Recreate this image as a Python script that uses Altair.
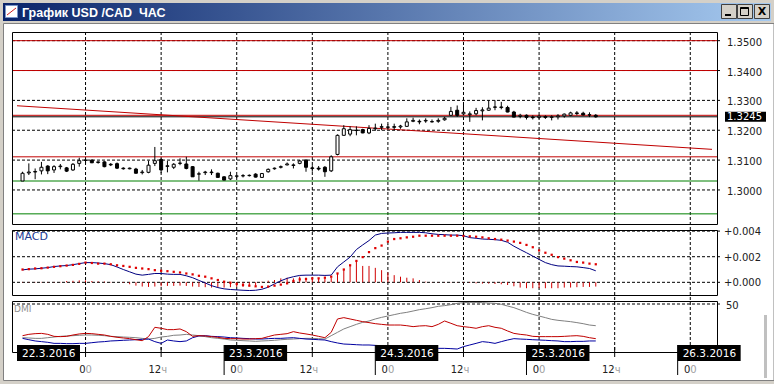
import altair as alt
import pandas as pd

# ---------------- data ----------------
hours = list(range(-10, 82))
opens = [1.3030,1.3057,1.3060,1.3064,1.3080,1.3067,1.3078,1.3074,1.3067,1.3089,
 1.3099,1.3100,1.3092,1.3094,1.3086,1.3088,1.3073,1.3071,1.3070,1.3058,
 1.3059,1.3089,1.3102,1.3079,1.3076,1.3089,1.3087,1.3078,1.3053,1.3058,
 1.3060,1.3056,1.3044,1.3037,1.3046,1.3047,1.3048,1.3053,1.3042,1.3061,
 1.3071,1.3076,1.3084,1.3082,1.3089,1.3100,1.3074,1.3073,1.3076,1.3064,
 1.3119,1.3183,1.3187,1.3200,1.3202,1.3191,1.3205,1.3210,1.3211,1.3212,
 1.3211,1.3213,1.3230,1.3230,1.3231,1.3229,1.3230,1.3235,1.3250,1.3267,
 1.3255,1.3252,1.3255,1.3265,1.3267,1.3278,1.3276,1.3276,1.3261,1.3246,
 1.3250,1.3244,1.3243,1.3246,1.3243,1.3245,1.3248,1.3250,1.3258,1.3257,
 1.3251,1.3250]
highs = [1.3061,1.3089,1.3072,1.3094,1.3083,1.3083,1.3087,1.3077,1.3090,1.3108,
 1.3106,1.3102,1.3096,1.3096,1.3090,1.3092,1.3076,1.3075,1.3074,1.3067,
 1.3098,1.3144,1.3106,1.3097,1.3090,1.3106,1.3111,1.3080,1.3061,1.3064,
 1.3069,1.3058,1.3046,1.3061,1.3050,1.3053,1.3052,1.3056,1.3057,1.3072,
 1.3075,1.3082,1.3092,1.3089,1.3100,1.3103,1.3083,1.3080,1.3080,1.3116,
 1.3186,1.3217,1.3213,1.3213,1.3205,1.3217,1.3222,1.3222,1.3220,1.3222,
 1.3218,1.3240,1.3242,1.3236,1.3240,1.3236,1.3240,1.3245,1.3278,1.3283,
 1.3290,1.3263,1.3275,1.3277,1.3300,1.3300,1.3295,1.3282,1.3265,1.3255,
 1.3253,1.3250,1.3252,1.3250,1.3250,1.3254,1.3256,1.3262,1.3264,1.3262,
 1.3260,1.3254]
lows = [1.3030,1.3050,1.3036,1.3052,1.3053,1.3057,1.3069,1.3060,1.3064,1.3078,
 1.3089,1.3090,1.3088,1.3076,1.3080,1.3070,1.3068,1.3069,1.3055,1.3052,
 1.3056,1.3080,1.3056,1.3059,1.3070,1.3083,1.3069,1.3044,1.3031,1.3050,
 1.3050,1.3042,1.3033,1.3033,1.3040,1.3042,1.3045,1.3042,1.3042,1.3058,
 1.3068,1.3072,1.3082,1.3072,1.3086,1.3061,1.3061,1.3065,1.3044,1.3060,
 1.3116,1.3183,1.3180,1.3183,1.3190,1.3187,1.3198,1.3200,1.3204,1.3200,
 1.3205,1.3211,1.3227,1.3220,1.3225,1.3226,1.3225,1.3232,1.3250,1.3245,
 1.3250,1.3228,1.3250,1.3233,1.3265,1.3267,1.3270,1.3260,1.3244,1.3240,
 1.3236,1.3236,1.3238,1.3238,1.3233,1.3236,1.3242,1.3247,1.3250,1.3250,
 1.3244,1.3242]
closes = [1.3056,1.3060,1.3062,1.3076,1.3064,1.3078,1.3080,1.3063,1.3086,1.3098,
 1.3100,1.3091,1.3094,1.3078,1.3084,1.3073,1.3071,1.3073,1.3056,1.3060,
 1.3083,1.3098,1.3067,1.3081,1.3086,1.3090,1.3072,1.3044,1.3054,1.3060,
 1.3058,1.3042,1.3033,1.3048,1.3047,1.3048,1.3049,1.3043,1.3055,1.3069,
 1.3073,1.3078,1.3087,1.3084,1.3097,1.3076,1.3072,1.3070,1.3061,1.3111,
 1.3183,1.3205,1.3202,1.3199,1.3191,1.3206,1.3207,1.3212,1.3210,1.3210,
 1.3214,1.3228,1.3233,1.3228,1.3233,1.3228,1.3233,1.3240,1.3263,1.3250,
 1.3260,1.3255,1.3266,1.3268,1.3274,1.3277,1.3278,1.3261,1.3244,1.3250,
 1.3243,1.3242,1.3247,1.3243,1.3245,1.3248,1.3254,1.3258,1.3256,1.3251,
 1.3252,1.3245]

macd_main = [0.00097,0.00103,0.00105,0.00110,0.00115,0.00123,0.00128,0.00131,0.00138,0.00146,
 0.00154,0.00154,0.00151,0.00146,0.00138,0.00120,0.00100,0.00082,0.00064,0.00056,
 0.00062,0.00069,0.00069,0.00064,0.00062,0.00062,0.00051,0.00036,0.00015,-0.00005,
 -0.00026,-0.00041,-0.00051,-0.00056,-0.00059,-0.00062,-0.00064,-0.00062,-0.00054,-0.00038,
 -0.00012,0.00012,0.00031,0.00044,0.00054,0.00056,0.00056,0.00056,0.00054,0.00056,
 0.00121,0.00159,0.00197,0.00256,0.00292,0.00326,0.00369,0.00382,0.00385,0.00387,
 0.00390,0.00390,0.00390,0.00390,0.00387,0.00379,0.00374,0.00372,0.00369,0.00369,
 0.00364,0.00349,0.00344,0.00338,0.00336,0.00333,0.00328,0.00313,0.00282,0.00256,
 0.00231,0.00205,0.00179,0.00154,0.00138,0.00128,0.00126,0.00123,0.00121,0.00115,
 0.00108,0.00090]
macd_signal = [0.00100,0.00103,0.00108,0.00110,0.00115,0.00121,0.00126,0.00131,0.00136,0.00144,
 0.00154,0.00151,0.00146,0.00146,0.00141,0.00133,0.00128,0.00121,0.00113,0.00108,
 0.00103,0.00095,0.00090,0.00087,0.00082,0.00077,0.00069,0.00062,0.00051,0.00044,
 0.00031,0.00018,0.00005,-0.00003,-0.00013,-0.00021,-0.00026,-0.00031,-0.00036,-0.00033,
 -0.00026,-0.00018,-0.00008,0.00010,0.00023,0.00026,0.00031,0.00031,0.00036,0.00044,
 0.00069,0.00100,0.00133,0.00167,0.00197,0.00236,0.00267,0.00287,0.00318,0.00338,
 0.00344,0.00351,0.00356,0.00364,0.00364,0.00364,0.00364,0.00364,0.00364,0.00364,
 0.00362,0.00359,0.00356,0.00351,0.00344,0.00338,0.00333,0.00326,0.00318,0.00308,
 0.00292,0.00274,0.00249,0.00231,0.00215,0.00197,0.00185,0.00172,0.00159,0.00154,
 0.00146,0.00141]
macd_hist = [0.00003,0.00003,0.00003,0.00003,0.00003,0.00003,0.00003,0.00010,0.00012,0.00015,
 0.00015,0.00010,0.00008,0.00006,0.00003,0.0,-0.00005,-0.00015,-0.00026,-0.00033,
 -0.00036,-0.00033,-0.00031,-0.00028,-0.00028,-0.00026,-0.00028,-0.00033,-0.00036,-0.00038,
 -0.00041,-0.00041,-0.00041,-0.00038,-0.00036,-0.00036,-0.00031,-0.00026,0.00005,0.00013,
 0.00018,0.00031,0.00036,0.00031,0.00044,0.00036,0.00031,0.00031,0.00031,0.00036,
 0.00069,0.00100,0.00133,0.00167,0.00128,0.00128,0.00113,0.00095,0.00077,0.00056,
 0.00044,0.00036,0.00031,0.00018,0.00005,0.00002,0.00002,0.00002,0.00002,0.00002,
 -0.00003,-0.00005,-0.00008,-0.00010,-0.00010,-0.00013,-0.00015,-0.00021,-0.00031,-0.00041,
 -0.00046,-0.00046,-0.00046,-0.00046,-0.00046,-0.00046,-0.00041,-0.00041,-0.00038,-0.00036,
 -0.00036,-0.00033]

dmi_plus = [17.0,18.4,19.1,19.4,18.4,16.3,16.0,16.3,17.7,18.8,
 19.4,19.1,18.4,17.7,16.3,15.3,14.6,13.9,12.8,11.8,
 16.0,25.7,24.7,23.3,23.3,24.0,21.2,16.3,17.0,16.7,
 16.0,15.3,14.2,13.9,13.9,13.5,13.5,13.9,14.2,16.0,
 17.7,18.4,19.1,21.2,19.8,18.8,17.7,16.3,14.9,20.5,
 34.4,35.8,34.4,33.0,31.6,30.6,29.5,28.8,28.1,28.1,
 28.1,27.4,26.4,27.1,27.4,26.4,28.8,32.3,29.9,27.4,
 26.4,25.7,24.7,26.4,27.4,25.7,24.7,21.9,19.4,18.4,
 17.7,16.3,16.0,16.0,16.0,16.0,16.3,16.7,17.0,16.3,
 14.9,13.9]
dmi_minus = [14.2,12.8,11.5,10.8,10.1,9.0,9.0,8.7,8.7,9.0,
 9.0,9.7,10.4,10.8,11.5,11.8,12.2,12.5,12.8,13.2,
 13.5,10.8,9.0,12.5,11.5,10.8,11.5,14.9,16.7,17.0,
 16.3,16.0,15.6,14.9,14.6,14.2,13.9,13.5,13.5,13.9,
 14.2,14.2,14.6,14.9,14.2,13.5,13.2,12.8,12.5,10.8,
 9.4,8.3,8.0,7.6,7.3,7.3,6.9,6.6,6.6,6.3,
 5.9,5.6,5.2,4.9,4.5,4.2,3.8,3.8,3.5,3.1,
 5.6,7.3,9.0,10.8,10.1,9.0,10.8,12.5,13.9,13.5,
 13.2,12.8,12.5,12.2,11.8,11.5,10.8,10.8,11.1,11.1,
 11.5,11.5]
adx = [14.9,14.6,14.2,14.2,14.9,15.6,16.3,16.7,17.0,17.4,
 17.7,17.7,17.4,17.0,16.3,16.0,15.6,15.3,14.9,14.2,
 13.5,14.2,15.6,16.3,17.4,17.7,18.4,17.7,17.0,16.0,
 14.9,14.2,13.5,12.5,12.2,11.8,11.5,11.1,11.5,11.8,
 12.2,12.8,13.2,13.5,13.9,14.2,14.2,13.9,13.5,17.0,
 20.5,24.0,26.4,28.8,30.9,32.3,34.4,36.1,37.5,38.9,
 40.3,41.3,42.7,44.1,45.1,46.2,47.6,48.3,49.3,50.7,
 51.4,51.7,51.7,51.4,51.0,50.7,49.7,47.9,46.2,43.8,
 41.3,39.2,37.5,35.8,34.0,33.0,32.3,31.6,30.6,29.5,
 28.1,27.4]

price_ticks = [1.35, 1.34, 1.33, 1.32, 1.31, 1.30]
price_labels = ["1.3500", "1.3400", "1.3300", "1.3200", "1.3100", "1.3000"]
macd_ticks = [0.004, 0.002, 0.0]
macd_labels = ["+0.004", "+0.002", "+0.000"]
dmi_ticks = [50]
dmi_labels = ["50"]
time_ticks = [0, 12, 24, 36, 48, 60, 72, 84, 96]
time_main = ["0", "12", "0", "12", "0", "12", "0", "12", "0"]
time_suffix = ["0", "ч", "0", "ч", "0", "ч", "0", "ч", "0"]
day_starts = [-10.88, 22, 46, 70, 94]
day_labels = ["22.3.2016", "23.3.2016", "24.3.2016", "25.3.2016", "26.3.2016"]
day_separators = [22, 46, 70, 94]
red_levels = [1.3500, 1.3400, 1.3250, 1.3111]
green_levels = [1.3030, 1.2920]
bid_price = 1.3245
bid_label = "1.3245"
trend_hours = [-10.88, 99.45]
trend_prices = [1.3282, 1.3136]
title_text = "График USD /CAD\u00a0\u00a0ЧАС"

# ---------------- scales ----------------
XS = alt.Scale(domain=[-10.88, 99.45], range=[12, 717], nice=False, zero=False)
PS = alt.Scale(domain=[1.2886, 1.3529], range=[224, 32], nice=False, zero=False)
MS = alt.Scale(domain=[-0.00099, 0.004086], range=[295, 230], nice=False, zero=False)
DS = alt.Scale(domain=[0, 50], range=[352, 304], nice=False, zero=False)
FONT = "DejaVu Sans"

def X(f="h"):
    return alt.X(f + ":Q", scale=XS, axis=None)

def Y(f, s):
    return alt.Y(f + ":Q", scale=s, axis=None)

one = pd.DataFrame({"k": [0]})
candles = pd.DataFrame({"h": hours, "o": opens, "hi": highs, "lo": lows, "c": closes})
candles["dir"] = ["up" if c >= o else "down" for o, c in zip(opens, closes)]
macd = pd.DataFrame({"h": hours, "m": macd_main, "s": macd_signal, "hist": macd_hist})
macd["zero"] = 0.0
dmi = pd.DataFrame({"h": hours, "p": dmi_plus, "n": dmi_minus, "a": adx})
pt = pd.DataFrame({"v": price_ticks, "t": price_labels})
mt = pd.DataFrame({"v": macd_ticks, "t": macd_labels})
dt = pd.DataFrame({"v": dmi_ticks, "t": dmi_labels})
tt = pd.DataFrame({"h": time_ticks, "a": time_main, "b": time_suffix})
days = pd.DataFrame({"h": day_starts, "t": day_labels})
days["e"] = days["h"] + 10
seps = pd.DataFrame({"h": day_separators})
reds = pd.DataFrame({"v": red_levels})
greens = pd.DataFrame({"v": green_levels})
bid = pd.DataFrame({"v": [bid_price], "t": [bid_label]})
trend = pd.DataFrame({"h": trend_hours, "p": trend_prices})


def box(x1, x2, y1, y2, **kw):
    return alt.Chart(one).mark_rect(**kw).encode(
        x=alt.value(x1), x2=alt.value(x2), y=alt.value(y1), y2=alt.value(y2))


def text(x, y, t, **kw):
    return alt.Chart(one).mark_text(text=t, **kw).encode(x=alt.value(x), y=alt.value(y))


layers = []
# window chrome
layers.append(box(0, 774, 0, 24, fill="#d4d0c8"))
layers.append(box(0, 3, 0, 384, fill="#d4d0c8"))
layers.append(box(0, 774, 380, 384, fill="#d4d0c8"))
layers.append(box(3.5, 774, 23.5, 380.5, fill="white", stroke="#808080", strokeWidth=1))
grad = alt.Gradient(gradient="linear", x1=0, x2=1, y1=0, y2=0,
                    stops=[alt.GradientStop(color="#0a246a", offset=0),
                           alt.GradientStop(color="#a6caf0", offset=1)])
layers.append(box(3, 771, 3, 21, fill=grad))
layers.append(box(5.5, 17.5, 5.5, 17.5, fill="white", stroke="#7a96c8", strokeWidth=1))
layers.append(alt.Chart(one).mark_rule(color="#d02020", strokeWidth=1).encode(
    x=alt.value(7), x2=alt.value(16), y=alt.value(15), y2=alt.value(8)))
layers.append(text(22, 12.5, title_text, font="Liberation Sans", fontSize=12.5,
                   fontWeight="bold", color="white", align="left", baseline="middle"))
for bx, glyph in [(721, "min"), (737, "max"), (754, "close")]:
    layers.append(box(bx + 0.5, bx + 15.5, 4.5, 18.5, fill="#d4d0c8", stroke="#404040", strokeWidth=1))
    if glyph == "min":
        layers.append(box(bx + 4, bx + 10, 14, 16, fill="black"))
    elif glyph == "max":
        layers.append(box(bx + 3.5, bx + 11.5, 7.5, 15.5, fill="none", stroke="black", strokeWidth=1))
        layers.append(box(bx + 3.5, bx + 11.5, 7.5, 9, fill="black"))
    else:
        layers.append(text(bx + 8, 12, "X", font=FONT, fontSize=11, fontWeight="bold",
                           color="black", align="center", baseline="middle"))
layers.append(box(764, 767, 315, 378, fill="#c0c0c0"))

# grid
layers.append(alt.Chart(tt).mark_rule(color="black", strokeDash=[3, 2], strokeWidth=1).encode(
    x=X(), y=alt.value(32), y2=alt.value(352)))
layers.append(alt.Chart(pt).mark_rule(color="black", strokeDash=[3, 2], strokeWidth=1).encode(
    y=Y("v", PS), x=alt.value(12), x2=alt.value(722)))
layers.append(alt.Chart(mt).mark_rule(color="black", strokeDash=[3, 2], strokeWidth=1).encode(
    y=Y("v", MS), x=alt.value(12), x2=alt.value(722)))
layers.append(alt.Chart(dt).mark_rule(color="black", strokeDash=[3, 2], strokeWidth=1).encode(
    y=Y("v", DS), x=alt.value(12), x2=alt.value(722)))

# price levels
layers.append(alt.Chart(reds).mark_rule(color="#c00000", strokeWidth=1).encode(
    y=Y("v", PS), x=alt.value(12), x2=alt.value(717)))
layers.append(alt.Chart(greens).mark_rule(color="#008000", strokeWidth=1).encode(
    y=Y("v", PS), x=alt.value(12), x2=alt.value(717)))
layers.append(alt.Chart(bid).mark_rule(color="black", strokeWidth=1).encode(
    y=Y("v", PS), x=alt.value(12), x2=alt.value(717)))
layers.append(alt.Chart(trend).mark_line(color="#c00000", strokeWidth=1).encode(
    x=X(), y=Y("p", PS)))

# candles
layers.append(alt.Chart(candles).mark_rule(color="black", strokeWidth=1).encode(
    x=X(), y=Y("lo", PS), y2="hi"))
layers.append(alt.Chart(candles).mark_bar(size=3, stroke="black", strokeWidth=1).encode(
    x=X(), y=Y("o", PS), y2="c",
    color=alt.Color("dir:N", scale=alt.Scale(domain=["up", "down"], range=["white", "black"]),
                    legend=None)))

# MACD
layers.append(alt.Chart(macd).mark_rule(color="#d00000", strokeWidth=1).encode(
    x=X(), y=Y("zero", MS), y2="hist"))
layers.append(alt.Chart(macd).mark_line(color="#000080", strokeWidth=1).encode(
    x=X(), y=Y("m", MS)))
layers.append(alt.Chart(macd).mark_square(size=5, color="#e00000", opacity=1).encode(
    x=X(), y=Y("s", MS)))

# DMI
layers.append(alt.Chart(dmi).mark_line(color="#808080", strokeWidth=1).encode(x=X(), y=Y("a", DS)))
layers.append(alt.Chart(dmi).mark_line(color="#0000a0", strokeWidth=1).encode(x=X(), y=Y("n", DS)))
layers.append(alt.Chart(dmi).mark_line(color="#c00000", strokeWidth=1).encode(x=X(), y=Y("p", DS)))

# panel frames
layers.append(box(12.5, 717.5, 32.5, 224.5, fill="none", stroke="black", strokeWidth=1))
layers.append(box(12.5, 717.5, 230.5, 295.5, fill="none", stroke="black", strokeWidth=1))
layers.append(box(12.5, 717.5, 301.5, 352.5, fill="none", stroke="black", strokeWidth=1))

# labels in panels
layers.append(text(15, 237, "MACD", font=FONT, fontSize=11, color="#1c3a94", align="left", baseline="middle"))
layers.append(text(14, 309, "DMI", font=FONT, fontSize=9, color="#909090", align="left", baseline="middle"))

# right axis labels
layers.append(alt.Chart(pt).mark_text(font=FONT, fontSize=10, color="#202020", align="left",
                                      baseline="middle", dy=2).encode(
    y=Y("v", PS), x=alt.value(727), text="t:N"))
layers.append(alt.Chart(mt).mark_text(font=FONT, fontSize=10, color="#202020", align="left",
                                      baseline="middle", dy=1).encode(
    y=Y("v", MS), x=alt.value(724), text="t:N"))
layers.append(alt.Chart(dt).mark_text(font=FONT, fontSize=10, color="#202020", align="left",
                                      baseline="middle", dy=2).encode(
    y=Y("v", DS), x=alt.value(726), text="t:N"))
layers.append(alt.Chart(bid).mark_rect(color="black", yOffset=-5, y2Offset=5).encode(
    y=Y("v", PS), y2="v", x=alt.value(725), x2=alt.value(766)))
layers.append(alt.Chart(bid).mark_text(font=FONT, fontSize=10, color="white", align="left",
                                       baseline="middle").encode(
    y=Y("v", PS), x=alt.value(727), text="t:N"))

# time axis
layers.append(alt.Chart(tt).mark_rule(color="black", strokeWidth=1).encode(
    x=X(), y=alt.value(347), y2=alt.value(357)))
layers.append(alt.Chart(seps).mark_rule(color="black", strokeWidth=1).encode(
    x=X(), y=alt.value(345), y2=alt.value(375)))
layers.append(alt.Chart(days).mark_rect(color="black").encode(
    x=X(), x2="e", y=alt.value(345), y2=alt.value(361)))
layers.append(alt.Chart(days).mark_text(font=FONT, fontSize=10.5, color="white", align="left",
                                        baseline="middle", dx=5).encode(
    x=X(), y=alt.value(353.5), text="t:N"))
layers.append(alt.Chart(tt).mark_text(font=FONT, fontSize=10, color="#202020", align="right",
                                      baseline="middle").encode(
    x=X(), y=alt.value(370), text="a:N"))
layers.append(alt.Chart(tt).mark_text(font=FONT, fontSize=10, color="#a0a0a0", align="left",
                                      baseline="middle").encode(
    x=X(), y=alt.value(370), text="b:N"))

chart = alt.layer(*layers).resolve_scale(y="independent").properties(
    width=774, height=384, padding=0, autosize="none"
).configure_view(stroke=None).configure(background="white")

chart.save("out.html", embed_options={"renderer": "svg", "actions": False})
